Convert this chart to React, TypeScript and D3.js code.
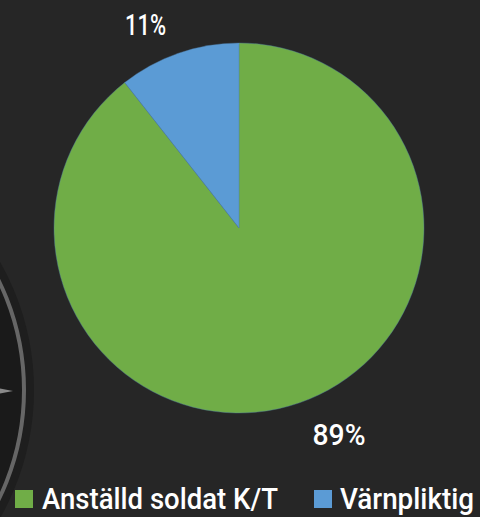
import React from "react";
import * as d3 from "d3";

const categories = ["Anställd soldat K/T", "Värnpliktig"];
const values = [89.4, 10.6];
const labels = ["89%", "11%"];
const colors = ["#70AD47", "#5B9BD5"];

export default function App() {
  const W = 480, H = 517;
  const cx = 239, cy = 228, r = 185;
  const pie = d3.pie<number>().sort(null).value((d) => d);
  const arcs = pie(values);
  const arcGen = d3.arc<d3.PieArcDatum<number>>().innerRadius(0).outerRadius(r);
  const labelPos = [
    { x: 339, y: 445, w: 53 },
    { x: 145.5, y: 35, w: 41 },
  ];
  const legend = [
    { sx: 15, tx: 42, tw: 236 },
    { sx: 314, tx: 340, tw: 134 },
  ];
  return (
    <svg width={W} height={H} style={{ position: "absolute", left: 0, top: 0, display: "block" }}>
      <rect x={0} y={0} width={W} height={H} fill="#262626" />
      {/* decorative background dial */}
      <g>
        <circle cx={-225} cy={390} r={259} fill="#1e1e1e" />
        <circle cx={-225} cy={390} r={249} fill="#1a1a1a" stroke="#666666" strokeWidth={4} />
        <path d="M0,388.5 L13,391 L0,393.5 Z" fill="#8a8a8a" />
      </g>
      <g transform={`translate(${cx},${cy})`}>
        {arcs.map((a, i) => (
          <path key={i} d={arcGen(a) || ""} fill={colors[i]} stroke="#4f7fa8" strokeWidth={0.4} />
        ))}
      </g>
      {labels.map((t, i) => (
        <text key={i} x={labelPos[i].x} y={labelPos[i].y} textAnchor="middle" fill="#ffffff"
          fontFamily="Roboto, 'DejaVu Sans'" fontWeight={500} fontSize={30} textLength={labelPos[i].w} lengthAdjust="spacingAndGlyphs">
          {t}
        </text>
      ))}
      {categories.map((c, i) => (
        <g key={c}>
          <rect x={legend[i].sx} y={490} width={18} height={18} fill={colors[i]} />
          <text x={legend[i].tx} y={509} fill="#ffffff" fontFamily="Roboto, 'DejaVu Sans'" fontWeight={500} fontSize={29}
            textLength={legend[i].tw} lengthAdjust="spacingAndGlyphs">
            {c}
          </text>
        </g>
      ))}
    </svg>
  );
}
